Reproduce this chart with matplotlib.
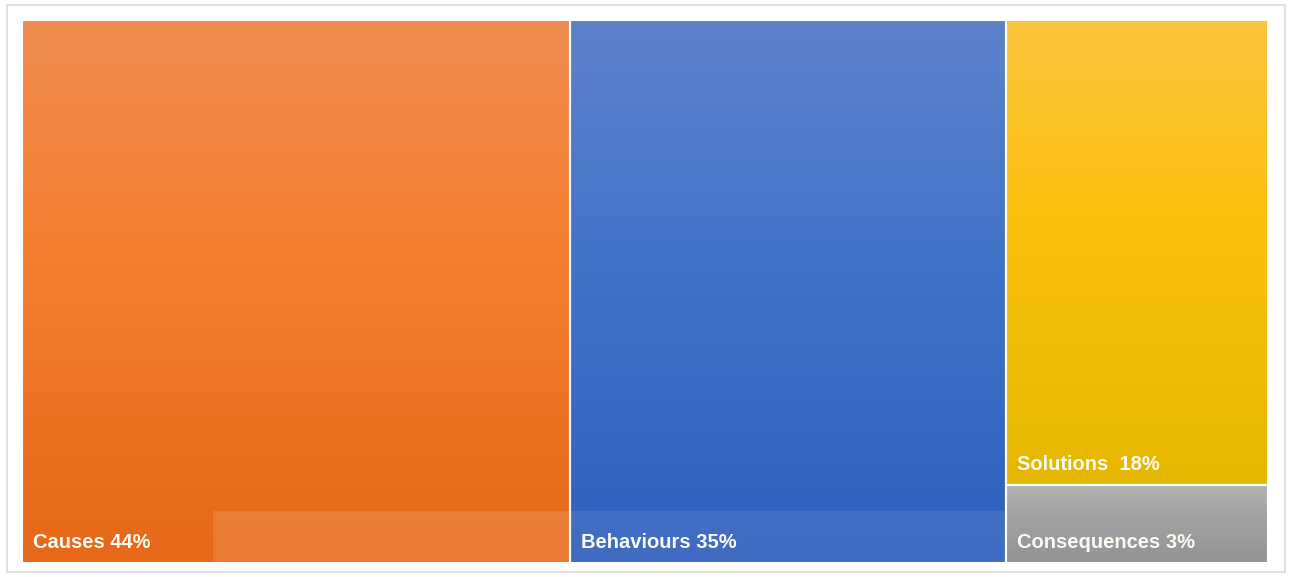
import numpy as np
import matplotlib
matplotlib.use("Agg")
import matplotlib.pyplot as plt
from matplotlib.patches import Rectangle
from matplotlib.colors import LinearSegmentedColormap

# -------------------------------------------------------------------
# Data
# -------------------------------------------------------------------
categories = ["Causes", "Behaviours", "Solutions", "Consequences"]
shares = [44, 35, 18, 3]
labels = ["Causes 44%", "Behaviours 35%", "Solutions  18%", "Consequences 3%"]
# gradient colours: bottom, middle, top
bottom_colors = ["#E66818", "#2F5FBD", "#E6B700", "#939393"]
mid_colors = ["#F47F30", "#4575C9", "#FAC10E", "#A3A3A3"]
top_colors = ["#F08C52", "#5E82CA", "#FDC43F", "#B2B2B2"]

# -------------------------------------------------------------------
# Simple treemap layout: first two as columns, last two stacked
# -------------------------------------------------------------------
total = sum(shares)
rects = []
x = 0.0
for v in shares[:2]:
    w = v / total
    rects.append((x, 0.0, w, 1.0))
    x += w
col_total = sum(shares[2:])
w = col_total / total
h_sol = shares[2] / col_total
h_con = shares[3] / col_total
rects.append((x, h_con, w, h_sol))   # Solutions on top
rects.append((x, 0.0, w, h_con))     # Consequences at bottom

W, H = 1290, 577
fig = plt.figure(figsize=(W / 100, H / 100), dpi=100)
fig.patch.set_facecolor("white")

# light outer frame
fig.patches.append(Rectangle((7 / W, 5 / H), 1278 / W, 567 / H, transform=fig.transFigure,
                             facecolor="none", edgecolor="#DADADA", linewidth=1.2, zorder=0))

ax = fig.add_axes([22 / W, 14 / H, 1246 / W, 543 / H])
ax.set_xlim(0, 1)
ax.set_ylim(0, 1)
ax.axis("off")

grad = np.linspace(0, 1, 256).reshape(-1, 1)
for i, (rx, ry, rw, rh) in enumerate(rects):
    cmap = LinearSegmentedColormap.from_list(
        categories[i], [(0, bottom_colors[i]), (0.6, mid_colors[i]), (1, top_colors[i])])
    ax.imshow(grad, cmap=cmap, extent=(rx, rx + rw, ry, ry + rh), origin="lower",
              aspect="auto", interpolation="bilinear", zorder=1)
    ax.add_patch(Rectangle((rx, ry), rw, rh, facecolor="none", edgecolor="white",
                           linewidth=1.5, zorder=3))

# lighter label band artefacts at the bottom of the two big tiles
band_h = 52 / 543
cx, cy, cw, ch = rects[0]
ax.add_patch(Rectangle((cx + 191 / 1246, 0), cw - 191 / 1246, band_h, facecolor="white",
                       alpha=0.12, edgecolor="none", zorder=2))
bx, by, bw, bh = rects[1]
ax.add_patch(Rectangle((bx, 0), bw, band_h, facecolor="white",
                       alpha=0.08, edgecolor="none", zorder=2))

# labels
font = ["Liberation Sans", "DejaVu Sans"]
pad_x = 11 / 1246
for i, (rx, ry, rw, rh) in enumerate(rects):
    ax.text(rx + pad_x, ry + 21 / 543, labels[i], color="#FBFBF3", fontsize=14.5,
            fontweight="bold", family=font, ha="left", va="center", zorder=4)

fig.savefig("out.png", dpi=100, facecolor="white")
